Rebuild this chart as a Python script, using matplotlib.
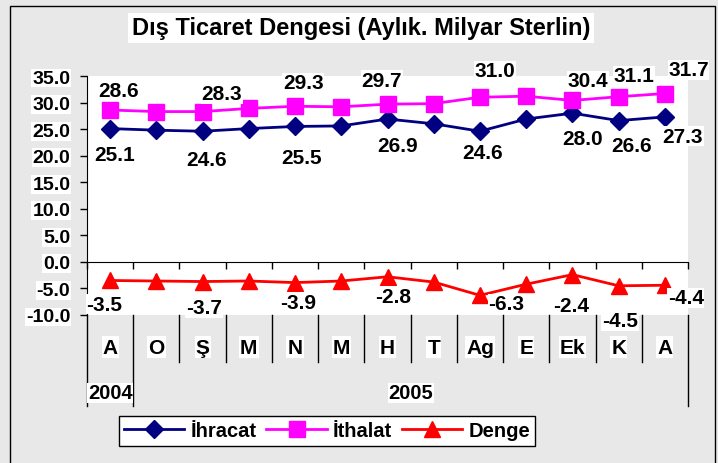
import numpy as np
import matplotlib.pyplot as plt
from matplotlib.patches import Rectangle
from matplotlib.lines import Line2D

plt.rcParams['font.family'] = ['Liberation Sans', 'DejaVu Sans']
plt.rcParams['font.weight'] = 'bold'

months = ['A', 'O', 'Ş', 'M', 'N', 'M', 'H', 'T', 'Ag', 'E', 'Ek', 'K', 'A']
years = ['2004', '2005']
year_first = [0, 1]
year_last = [0, 12]

ihracat = [25.1, 24.8, 24.6, 25.1, 25.5, 25.6, 26.9, 26.0, 24.6, 26.9, 28.0, 26.6, 27.3]
ithalat = [28.6, 28.3, 28.3, 28.9, 29.3, 29.2, 29.7, 29.8, 31.0, 31.2, 30.4, 31.1, 31.7]
denge = [-3.5, -3.6, -3.7, -3.6, -3.9, -3.6, -2.8, -3.8, -6.3, -4.2, -2.4, -4.5, -4.4]

# points that carry a value label
labelled = [0, 2, 4, 6, 8, 10, 11, 12]

# label offsets (points) per labelled point
off_ihr = [(3, -19), (3, -20), (5, -22), (7, -19), (2, -15), (7, -18), (9, -18), (13, -14)]
off_ith = [(6, 14), (14, 13), (6, 17), (-4, 17), (11, 19), (11, 14), (11, 15), (17, 17)]
off_den = [(-4, -17), (1, -19), (2, -14), (4, -14), (19, -6), (-1, -22), (1, -25), (15, -9)]

W, H = 718, 464
fig = plt.figure(figsize=(W / 100, H / 100), dpi=100, facecolor='#e8e8e8')
ax = fig.add_axes([87 / W, 1 - 316 / H, (688 - 87) / W, (316 - 77) / H])
ax.set_facecolor('white')

x = np.arange(len(months))
series = [
    (ihracat, '#000080', 'D', 9, 'İhracat', off_ihr),
    (ithalat, '#ff00ff', 's', 11, 'İthalat', off_ith),
    (denge, '#ff0000', '^', 11, 'Denge', off_den),
]
handles = []
for vals, col, mk, ms, name, offs in series:
    ax.plot(x, vals, color=col, lw=2, marker=mk, ms=ms, clip_on=False, zorder=3)
    handles.append(Line2D([], [], color=col, lw=2, marker=mk, ms=ms, label=name))
    for i, (dx, dy) in zip(labelled, offs):
        ax.annotate(f'{vals[i]:.1f}', (x[i], vals[i]), xytext=(dx, dy),
                    textcoords='offset points', ha='center', va='center',
                    fontsize=15, fontweight='bold', zorder=4,
                    bbox=dict(boxstyle='square,pad=0.03', fc='white', ec='none'))

ax.set_xlim(-0.5, len(months) - 0.5)
ax.set_ylim(-10, 35)
ax.set_yticks(np.arange(-10, 36, 5))
ax.set_yticklabels([f'{v:.1f}' for v in np.arange(-10, 36, 5)])
ax.tick_params(axis='y', length=5, width=1, pad=7, labelsize=14)
for t in ax.get_yticklabels():
    t.set_fontweight('bold')
    t.set_bbox(dict(boxstyle='square,pad=0.05', fc='white', ec='none'))

ax.spines['top'].set_visible(False)
ax.spines['right'].set_visible(False)
ax.spines['bottom'].set_position(('data', 0))
ax.set_xticks(np.arange(len(months) + 1) - 0.5)
ax.set_xticklabels([])
ax.tick_params(axis='x', length=5, width=1, direction='out')

# multi-level category axis below the plot
tr = ax.get_xaxis_transform()
row1 = -(363 - 316) / 239
row2 = -(407 - 316) / 239
for k in range(len(months) + 1):
    bottom = row2 if k in (0, 1, len(months)) else row1
    ax.plot([k - 0.5, k - 0.5], [0, bottom], transform=tr, color='black',
            lw=1, clip_on=False)
for i, m in enumerate(months):
    ax.text(i, -0.134, m, transform=tr, ha='center', va='center', fontsize=15,
            fontweight='bold',
            bbox=dict(boxstyle='square,pad=0.05', fc='white', ec='none'))
for yr, a, b in zip(years, year_first, year_last):
    ax.text((a + b) / 2, -0.326, yr, transform=tr, ha='center', va='center',
            fontsize=14.5, fontweight='bold',
            bbox=dict(boxstyle='square,pad=0.03', fc='white', ec='none'))

fig.text(361 / W, 1 - 29 / H, 'Dış Ticaret Dengesi (Aylık. Milyar Sterlin)',
         ha='center', va='center', fontsize=17, fontweight='bold',
         bbox=dict(boxstyle='square,pad=0.15', fc='white', ec='none'))

leg = fig.legend(handles=handles, loc='center', bbox_to_anchor=(327 / W, 1 - 432 / H),
                 ncol=3, fancybox=False, edgecolor='black', framealpha=1,
                 prop={'size': 14.5, 'weight': 'bold'}, handlelength=3.0,
                 columnspacing=0.5, handletextpad=0.3, borderpad=0.25)
leg.get_frame().set_linewidth(1)

fig.add_artist(Rectangle((10 / W, -0.01), (715 - 10) / W, 1 - 7 / H + 0.01,
                         transform=fig.transFigure, fill=False, ec='black', lw=1))

fig.savefig('out.png', dpi=100, facecolor=fig.get_facecolor())
